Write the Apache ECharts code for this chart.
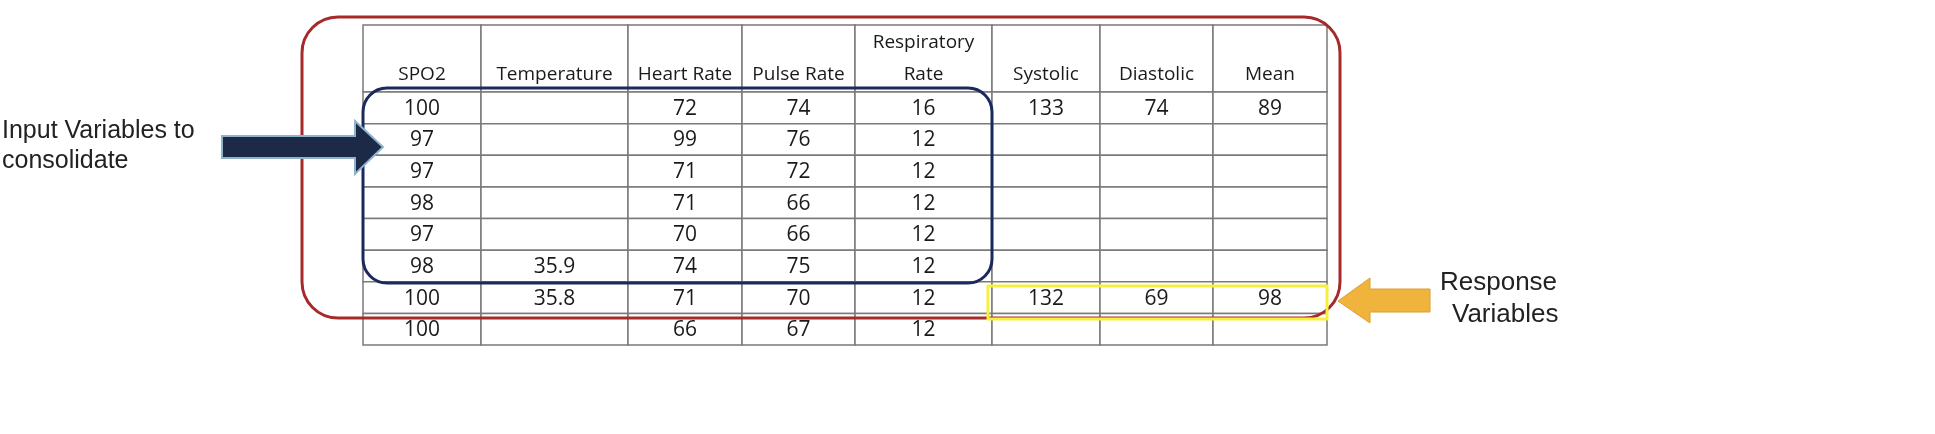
<!DOCTYPE html>
<html lang="en">
<head>
    <meta charset="UTF-8">
    <title>Input / Response Variables</title>
    <script src="https://cdn.jsdelivr.net/npm/echarts@6/dist/echarts.min.js"></script>
    <style>html,body{margin:0;background:#fff}</style>
</head>
<body>
    <div id="main" style="width:1935px;height:434px;"></div>
    <script type="text/javascript">
        // table content
        var headers = ['SPO2', 'Temperature', 'Heart Rate', 'Pulse Rate', 'Respiratory\nRate', 'Systolic', 'Diastolic', 'Mean'];
        var spo2 = ['100', '97', '97', '98', '97', '98', '100', '100'];
        var temperature = ['', '', '', '', '', '35.9', '35.8', ''];
        var heartRate = ['72', '99', '71', '71', '70', '74', '71', '66'];
        var pulseRate = ['74', '76', '72', '66', '66', '75', '70', '67'];
        var respRate = ['16', '12', '12', '12', '12', '12', '12', '12'];
        var systolic = ['133', '', '', '', '', '', '132', ''];
        var diastolic = ['74', '', '', '', '', '', '69', ''];
        var mean = ['89', '', '', '', '', '', '98', ''];
        var columns = [spo2, temperature, heartRate, pulseRate, respRate, systolic, diastolic, mean];

        // column widths / row heights (table units)
        var colWidths = [118, 147, 114, 113, 137, 108, 113, 114];
        var headerHeight = 67;
        var rowHeight = 31.6;

        var colEdges = [0];
        colWidths.forEach(function (w) { colEdges.push(colEdges[colEdges.length - 1] + w); });
        var rowEdges = [0, headerHeight];
        spo2.forEach(function () { rowEdges.push(rowEdges[rowEdges.length - 1] + rowHeight); });

        var cells = [];
        headers.forEach(function (h, c) { cells.push([c, 0, h]); });
        columns.forEach(function (col, c) {
            col.forEach(function (v, r) { cells.push([c, r + 1, v]); });
        });

        var font = "'Open Sans', sans-serif";

        var myChart = echarts.init(document.getElementById('main'));
        var option = {
            animation: false,
            grid: { left: 363, right: 1935 - 1327, top: 25, bottom: 434 - 345 },
            xAxis: { type: 'value', min: 0, max: colEdges[colEdges.length - 1], show: false },
            yAxis: { type: 'value', min: 0, max: rowEdges[rowEdges.length - 1], inverse: true, show: false },
            series: [{
                type: 'custom',
                data: cells,
                renderItem: function (params, api) {
                    var c = api.value(0), r = api.value(1);
                    var p0 = api.coord([colEdges[c], rowEdges[r]]);
                    var p1 = api.coord([colEdges[c + 1], rowEdges[r + 1]]);
                    var txt = cells[params.dataIndex][2];
                    var isHead = r === 0;
                    return {
                        type: 'group',
                        children: [{
                            type: 'rect',
                            shape: { x: p0[0], y: p0[1], width: p1[0] - p0[0], height: p1[1] - p0[1] },
                            style: { fill: '#fff', stroke: '#7a7a7a', lineWidth: 1.5 }
                        }, {
                            type: 'text',
                            style: {
                                text: txt,
                                x: (p0[0] + p1[0]) / 2,
                                y: isHead ? p1[1] - 1 : (p0[1] + p1[1]) / 2 + 1,
                                align: 'center',
                                verticalAlign: isHead ? 'bottom' : 'middle',
                                font: (isHead ? '19px ' : '21px ') + font,
                                lineHeight: isHead ? 32 : 22,
                                fill: '#1a1a1a'
                            }
                        }]
                    };
                }
            }],
            graphic: [
                // red group outline
                { type: 'rect', shape: { x: 302, y: 17, width: 1038, height: 301, r: 36 },
                  style: { fill: null, stroke: '#a52a2a', lineWidth: 3 }, z: 10 },
                // blue input group
                { type: 'rect', shape: { x: 363, y: 88, width: 629, height: 195, r: 24 },
                  style: { fill: null, stroke: '#1b2a5e', lineWidth: 3 }, z: 11 },
                // yellow response group
                { type: 'rect', shape: { x: 988, y: 286, width: 339, height: 33 },
                  style: { fill: null, stroke: '#f5f03a', lineWidth: 3 }, z: 12 },
                // dark arrow
                { type: 'polygon', shape: { points: [[222, 136], [355, 136], [355, 121], [383, 147], [355, 174], [355, 158], [222, 158]] },
                  style: { fill: '#1c2a48', stroke: '#8fb3cc', lineWidth: 2 }, z: 13 },
                // orange arrow
                { type: 'polygon', shape: { points: [[1430, 289], [1370, 289], [1370, 278], [1338, 301], [1370, 323], [1370, 312], [1430, 312]] },
                  style: { fill: '#f0b43c', stroke: '#d9a030', lineWidth: 1 }, z: 13 },
                { type: 'text', left: 2, top: 116,
                  style: { text: 'Input Variables to\nconsolidate', font: "25px 'Liberation Sans', Arial, sans-serif", lineHeight: 30, fill: '#222' } },
                { type: 'text', left: 1440, top: 270,
                  style: { text: 'Response', font: "26px 'Liberation Sans', Arial, sans-serif", fill: '#222' } },
                { type: 'text', left: 1452, top: 302,
                  style: { text: 'Variables', font: "26px 'Liberation Sans', Arial, sans-serif", fill: '#222' } }
            ]
        };
        myChart.setOption(option);
    </script>
</body>
</html>
